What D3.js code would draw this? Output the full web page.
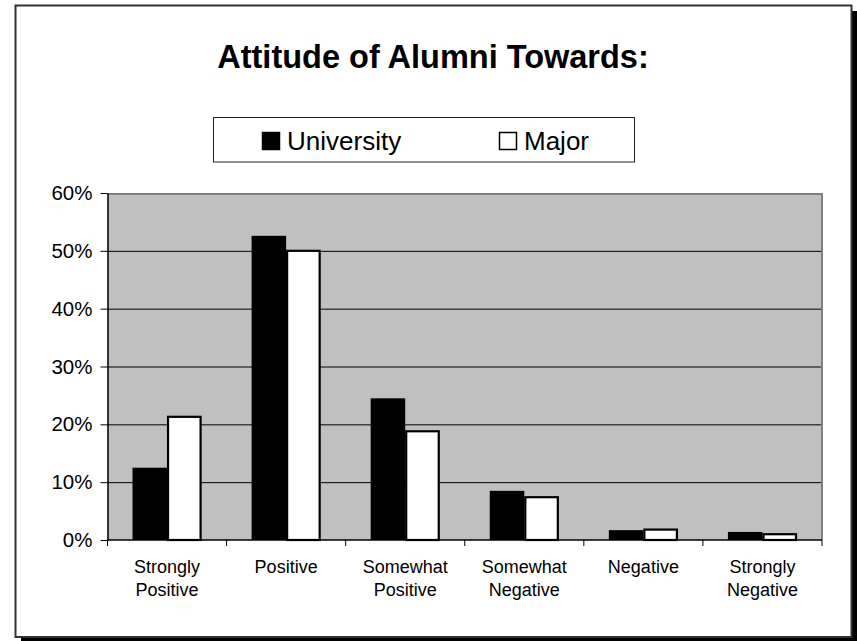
<!DOCTYPE html>
<meta charset="utf-8">
<script src="https://d3js.org/d3.v7.min.js"></script>
<style>
  body { margin: 0; background: #fff; }
  text { font-family: Arial, "Liberation Sans", sans-serif; }
</style>
<div id="my_dataviz"></div>
<script>

// data (percent)
const categories = [
  ["Strongly", "Positive"],
  ["Positive"],
  ["Somewhat", "Positive"],
  ["Somewhat", "Negative"],
  ["Negative"],
  ["Strongly", "Negative"]
];
const seriesNames = ["University", "Major"];
const university = [12.5, 52.6, 24.5, 8.5, 1.7, 1.4];
const major = [21.3, 50.0, 18.8, 7.4, 1.8, 1.0];
const yTicks = [0, 10, 20, 30, 40, 50, 60];

const W = 857, H = 641;
const plot = {left: 107.5, right: 822, top: 193, bottom: 540};

const svg = d3.select("#my_dataviz")
  .append("svg")
    .attr("width", W)
    .attr("height", H);

// outer frame with drop shadow
svg.append("rect")
  .attr("x", 21).attr("y", 11)
  .attr("width", 836).attr("height", 630)
  .attr("fill", "#000");
svg.append("rect")
  .attr("x", 15.5).attr("y", 5.5)
  .attr("width", 836).attr("height", 631.5)
  .attr("fill", "#fff")
  .attr("stroke", "#333")
  .attr("stroke-width", 2);

// title
svg.append("text")
  .attr("x", 433).attr("y", 68)
  .attr("text-anchor", "middle")
  .attr("font-size", 32.5)
  .attr("font-weight", "bold")
  .text("Attitude of Alumni Towards:");

// legend
const legend = svg.append("g");
legend.append("rect")
  .attr("x", 213.5).attr("y", 117.5)
  .attr("width", 421).attr("height", 44.5)
  .attr("fill", "#fff")
  .attr("stroke", "#222")
  .attr("stroke-width", 1);
const legendX = [262, 499];
const legendFill = ["#000", "#fff"];
seriesNames.forEach((name, i) => {
  legend.append("rect")
    .attr("x", legendX[i] + 0.5).attr("y", 132.5)
    .attr("width", 17).attr("height", 17)
    .attr("fill", legendFill[i])
    .attr("stroke", "#000")
    .attr("stroke-width", 1.5);
  legend.append("text")
    .attr("x", legendX[i] + 25).attr("y", 150)
    .attr("font-size", 26)
    .text(name);
});

// scales
const x = d3.scaleBand()
  .domain(d3.range(categories.length))
  .range([plot.left, plot.right])
  .paddingInner(0.42)
  .paddingOuter(0.21);
const xSub = d3.scaleBand()
  .domain(seriesNames)
  .range([0, x.bandwidth()]);
const y = d3.scaleLinear()
  .domain([0, 60])
  .range([plot.bottom, plot.top]);

// plot area
svg.append("rect")
  .attr("x", plot.left).attr("y", plot.top)
  .attr("width", plot.right - plot.left)
  .attr("height", plot.bottom - plot.top)
  .attr("fill", "#c0c0c0");

// gridlines
svg.append("g")
  .selectAll("line")
  .data(yTicks.slice(1, -1))
  .join("line")
    .attr("x1", plot.left).attr("x2", plot.right)
    .attr("y1", d => y(d) + 0.5).attr("y2", d => y(d) + 0.5)
    .attr("stroke", "#000")
    .attr("stroke-width", 1);

// plot border top/right
svg.append("path")
  .attr("d", `M${plot.left},${plot.top + 1}H${plot.right}V${plot.bottom}`)
  .attr("fill", "none")
  .attr("stroke", "#808080")
  .attr("stroke-width", 2);

// bars
const rows = categories.map((c, i) => ({i, values: [university[i], major[i]]}));
const groups = svg.append("g")
  .selectAll("g")
  .data(rows)
  .join("g")
    .attr("transform", d => `translate(${x(d.i)},0)`);
groups.selectAll("rect")
  .data(d => d.values.map((v, k) => ({key: seriesNames[k], v})))
  .join("rect")
    .attr("x", d => xSub(d.key) + (d.key === "Major" ? 1 : 0))
    .attr("y", d => y(d.v))
    .attr("width", d => xSub.bandwidth() - (d.key === "Major" ? 2 : 0))
    .attr("height", d => plot.bottom - y(d.v))
    .attr("fill", d => d.key === "Major" ? "#fff" : "#000")
    .attr("stroke", d => d.key === "Major" ? "#000" : "none")
    .attr("stroke-width", 2.2);

// y axis
const yAxis = svg.append("g")
  .attr("transform", `translate(${plot.left},0)`)
  .call(d3.axisLeft(y)
    .tickValues(yTicks)
    .tickFormat(d => d + "%")
    .tickSize(7)
    .tickSizeOuter(0)
    .tickPadding(8));
yAxis.select(".domain").attr("stroke", "#000").attr("stroke-width", 1.5);
yAxis.selectAll("line").attr("stroke", "#000");
yAxis.selectAll("text")
  .attr("font-size", 20.5)
  .attr("font-family", "Arial, 'Liberation Sans', sans-serif")
  .attr("fill", "#000");

// x axis line + ticks at category boundaries
const step = x.step();
const boundaries = d3.range(categories.length + 1).map(i => plot.left + i * step);
svg.append("line")
  .attr("x1", plot.left).attr("x2", plot.right)
  .attr("y1", plot.bottom).attr("y2", plot.bottom)
  .attr("stroke", "#000").attr("stroke-width", 1.5);
svg.append("g")
  .selectAll("line")
  .data(boundaries)
  .join("line")
    .attr("x1", d => d).attr("x2", d => d)
    .attr("y1", plot.bottom).attr("y2", plot.bottom + 6)
    .attr("stroke", "#000");

// category labels
svg.append("g")
  .selectAll("text")
  .data(categories)
  .join("text")
    .attr("x", (d, i) => x(i) + x.bandwidth() / 2)
    .attr("y", 573)
    .attr("text-anchor", "middle")
    .attr("font-size", 18)
  .selectAll("tspan")
  .data(d => d)
  .join("tspan")
    .attr("x", function() { return this.parentNode.getAttribute("x"); })
    .attr("dy", (d, i) => i === 0 ? 0 : 23)
    .text(d => d);

</script>
